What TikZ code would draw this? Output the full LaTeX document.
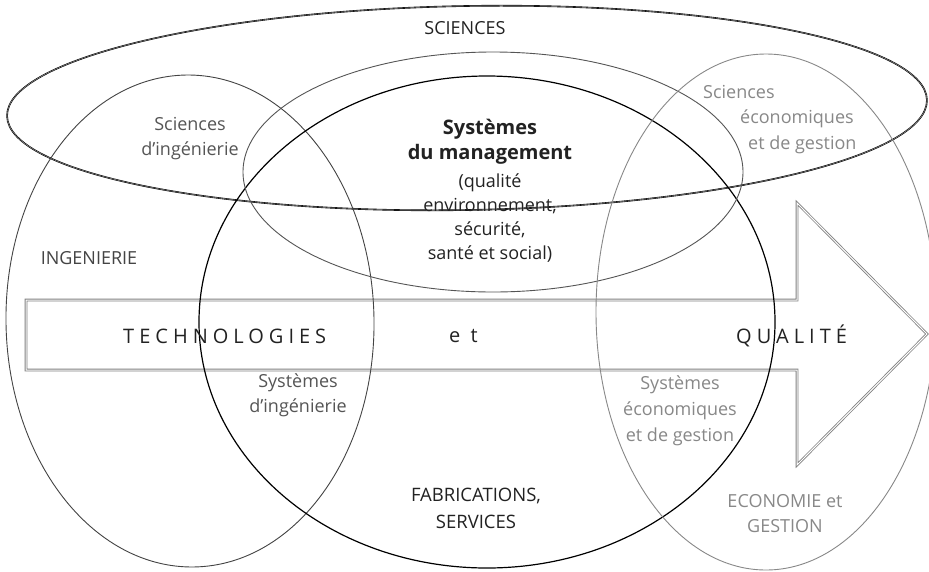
\documentclass[tikz,border=0pt]{standalone}
\usepackage{fontspec}
\setmainfont{Open Sans}
\newfontfamily\spacedfont[LetterSpace=25]{Open Sans}

\definecolor{inkA}{HTML}{222222}
\definecolor{inkB}{HTML}{444444}
\definecolor{inkC}{HTML}{555555}
\definecolor{inkD}{HTML}{888888}

\tikzset{
  sciline/.style={draw=black, line width=0.6pt, double=black!35, double distance=0.4pt},
  engline/.style={draw=inkB, line width=0.9pt},
  coreline/.style={draw=black, line width=1.2pt},
  mgmtline/.style={draw=inkC, line width=0.9pt},
  ecoline/.style={draw=inkD, line width=0.9pt},
  arrowline/.style={draw=black!50, line width=0.8pt, double=white, double distance=1pt, line join=miter},
  lbl/.style={inner sep=0pt, align=center, font=\fontsize{18}{25}\selectfont},
  wide/.style={inner sep=0pt, font=\spacedfont\fontsize{20}{24}\selectfont, text=inkA}
}

\begin{document}
\begin{tikzpicture}[x=1pt, y=-1pt]
\useasboundingbox (0,0) rectangle (929,571);
\clip (0,0) rectangle (929,571);
\fill[white] (0,0) rectangle (929,571);

% the broad arrow running across the diagram
\draw[arrowline] (26,300) -- (797,300) -- (797,203) -- (927,334)
  -- (797,465) -- (797,370) -- (26,370) -- cycle;

% domains
\draw[sciline, rotate around={1:(467,108)}] (467,108) ellipse[x radius=460, y radius=102];
\draw[engline, rotate around={1:(190,321)}] (190,321) ellipse[x radius=184, y radius=246];
\draw[coreline] (487,322) ellipse[x radius=288, y radius=246];
\draw[mgmtline] (493,172) ellipse[x radius=250, y radius=120];
\draw[ecoline] (766,312) ellipse[x radius=170, y radius=258];

% labels
\node[lbl, text=inkA, font=\fontsize{18}{22}\selectfont] (sci) at (465,28) {SCIENCES};
\node[lbl, text=inkC] (scieng) at (190,139) {Sciences\\d’ingénierie};
\node[lbl, text=inkB] (eng) at (89,258) {INGENIERIE};
\node[lbl, text=inkA, font=\bfseries\fontsize{20}{25}\selectfont] (mgmt) at (490,142) {Systèmes\\du management};
\node[lbl, text=inkA, font=\fontsize{18}{24}\selectfont] (mgmtlist) at (490,218) {(qualité\\environnement,\\sécurité,\\santé et social)};
\node[lbl, text=inkD, anchor=west] (scieco1) at (703,92) {Sciences};
\node[lbl, text=inkD, anchor=west] (scieco2) at (740,119) {économiques};
\node[lbl, text=inkD, anchor=west] (scieco3) at (748,145) {et de gestion};

\node[wide, anchor=west] (tech) at (123,336) {TECHNOLOGIES};
\node[wide, anchor=west] (and) at (449,336) {e t};
\node[wide, anchor=west] (qual) at (736,336) {QUALITÉ};

\node[lbl, text=inkC] (syseng) at (298,395) {Systèmes\\d’ingénierie};
\node[lbl, text=inkD, font=\fontsize{18}{26}\selectfont] (syseco) at (680,411) {Systèmes\\économiques\\et de gestion};
\node[lbl, text=inkA, font=\fontsize{18.5}{27}\selectfont] (fab) at (476,508) {FABRICATIONS,\\SERVICES};
\node[lbl, text=inkD] (ecogest) at (785,514) {ECONOMIE et\\GESTION};
\end{tikzpicture}
\end{document}
